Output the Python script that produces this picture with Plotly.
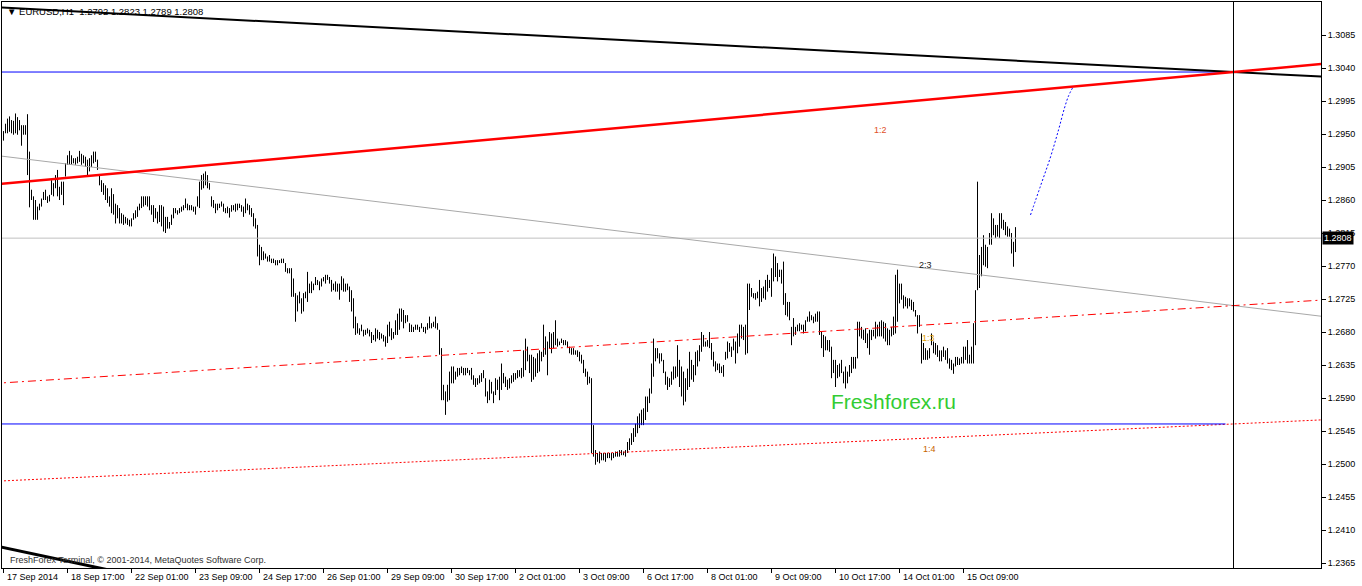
import plotly.graph_objects as go

# -- Data: EURUSD H1, bar highs/lows in units of 0.0001 --
HIGH = [
    12954, 12964, 12971, 12974, 12969, 12968, 12978, 12973, 12969, 12962, 12962, 12962, 12977, 12926, 12874, 12865,
    12860, 12851, 12855, 12862, 12871, 12874, 12865, 12867, 12887, 12883, 12894, 12901, 12878, 12885, 12885, 12910,
    12921, 12927, 12921, 12917, 12917, 12919, 12927, 12923, 12921, 12919, 12915, 12917, 12921, 12926, 12926, 12915,
    12894, 12887, 12883, 12880, 12876, 12865,
    12876, 12868, 12855, 12853, 12849, 12842, 12840, 12837, 12835, 12833, 12835, 12842, 12846, 12851, 12855, 12865,
    12865, 12865, 12865, 12865, 12853, 12853, 12849, 12844, 12853, 12853, 12851, 12837, 12837, 12830, 12840, 12849,
    12849, 12846, 12849, 12851, 12853, 12862, 12855, 12853, 12853, 12851, 12851, 12865, 12885, 12894, 12896, 12899,
    12894, 12883, 12865, 12860, 12855, 12855, 12855,
    12858, 12855, 12849, 12851, 12849, 12853, 12853, 12855, 12855, 12855, 12853, 12851, 12862, 12855, 12853, 12849,
    12842, 12835, 12826, 12799, 12796, 12790, 12787, 12783, 12785, 12780, 12780, 12778, 12778, 12778, 12780, 12780,
    12774, 12767, 12767, 12767, 12753, 12733, 12730, 12735, 12726, 12733, 12735, 12762, 12746, 12749, 12746, 12755,
    12751, 12749, 12753, 12755, 12758, 12758, 12755,
    12751, 12746, 12749, 12746, 12746, 12756, 12753, 12746, 12746, 12742, 12737, 12726, 12701, 12692, 12685, 12690,
    12683, 12683, 12685, 12683, 12680, 12676, 12685, 12683, 12680, 12678, 12676, 12674, 12690, 12694, 12685, 12680,
    12696, 12705, 12712, 12712, 12710, 12703, 12703, 12692, 12690, 12687, 12690, 12690, 12687, 12692, 12687, 12687,
    12692, 12701, 12692, 12694, 12701, 12692, 12683,
    12658, 12608, 12599, 12608, 12626, 12633, 12633, 12626, 12631, 12631, 12633, 12631, 12631, 12631, 12628, 12631,
    12621, 12617, 12617, 12621, 12624, 12628, 12617, 12599, 12615, 12612, 12599, 12617, 12615, 12619, 12637, 12624,
    12619, 12615, 12617, 12621, 12624, 12624, 12628, 12628, 12631, 12655, 12671, 12660, 12649, 12649, 12646, 12644,
    12651, 12655, 12653, 12690, 12674, 12667, 12680,
    12678, 12680, 12696, 12671, 12667, 12671, 12669, 12669, 12667, 12660, 12658, 12658, 12655, 12655, 12653, 12649,
    12642, 12630, 12626, 12619, 12617, 12553, 12519, 12515, 12517, 12515, 12515, 12515, 12515, 12515, 12515, 12515,
    12517, 12517, 12519, 12519, 12517, 12519, 12530, 12535, 12542, 12549, 12555, 12565, 12569, 12574, 12576, 12592,
    12592, 12603, 12637, 12671, 12658, 12658, 12651,
    12651, 12642, 12626, 12619, 12617, 12626, 12633, 12633, 12662, 12642, 12633, 12626, 12617, 12630, 12653, 12642,
    12635, 12653, 12655, 12662, 12680, 12676, 12667, 12669, 12680, 12665, 12653, 12640, 12637, 12637, 12633, 12635,
    12653, 12667, 12665, 12660, 12671, 12667, 12678, 12690, 12690, 12687, 12690, 12746, 12746, 12740, 12733, 12733,
    12735, 12751, 12740, 12742, 12751, 12758, 12751,
    12767, 12787, 12783, 12774, 12765, 12765, 12776, 12733, 12721, 12721, 12687, 12699, 12687, 12690, 12692, 12690,
    12690, 12696, 12701, 12708, 12703, 12701, 12705, 12708, 12708, 12680, 12676, 12674, 12669, 12669, 12660, 12642,
    12642, 12635, 12637, 12642, 12626, 12633, 12626, 12635, 12646, 12646, 12646, 12694, 12694, 12687, 12683, 12685,
    12678, 12683, 12683, 12683, 12694, 12690, 12694,
    12696, 12694, 12692, 12685, 12683, 12687, 12701, 12758, 12765, 12746, 12746, 12730, 12728, 12726, 12726, 12724,
    12721, 12710, 12703, 12703, 12678, 12665, 12658, 12655, 12658, 12678, 12667, 12665, 12662, 12655, 12655, 12660,
    12655, 12658, 12644, 12642, 12637, 12646, 12646, 12644, 12646, 12660, 12660, 12669, 12649, 12660, 12692, 12737,
    12885, 12785, 12796, 12812, 12799, 12796, 12815, 12842, 12835, 12826, 12826, 12842, 12842, 12833, 12830, 12824,
    12821, 12815, 12803, 12823,
]
LOW = [
    12941, 12951, 12951, 12953, 12951, 12949, 12951, 12949, 12955, 12934, 12949, 12949, 12894, 12850, 12860, 12833,
    12833, 12833, 12846, 12851, 12860, 12860, 12856, 12858, 12867, 12865, 12876, 12865, 12860, 12867, 12853, 12892,
    12908, 12908, 12908, 12910, 12908, 12910, 12912, 12908, 12910, 12905, 12894, 12899, 12905, 12910, 12912, 12901,
    12880, 12871, 12867, 12860, 12856, 12851,
    12842, 12840, 12828, 12835, 12828, 12828, 12826, 12828, 12826, 12824, 12824, 12833, 12835, 12837, 12846, 12849,
    12851, 12853, 12851, 12846, 12840, 12830, 12835, 12828, 12830, 12824, 12817, 12815, 12821, 12821, 12826, 12835,
    12842, 12840, 12842, 12844, 12846, 12849, 12846, 12846, 12846, 12844, 12840, 12851, 12849, 12874, 12876, 12880,
    12876, 12874, 12851, 12849, 12842, 12846, 12849,
    12851, 12844, 12842, 12842, 12836, 12844, 12846, 12844, 12846, 12849, 12844, 12837, 12842, 12846, 12840, 12837,
    12824, 12821, 12783, 12771, 12778, 12778, 12780, 12776, 12776, 12774, 12774, 12771, 12771, 12774, 12774, 12774,
    12762, 12760, 12760, 12728, 12728, 12694, 12708, 12719, 12705, 12708, 12726, 12721, 12733, 12733, 12737, 12744,
    12744, 12737, 12742, 12749, 12746, 12751, 12746,
    12735, 12737, 12735, 12735, 12724, 12737, 12735, 12735, 12737, 12721, 12708, 12685, 12676, 12678, 12676, 12681,
    12674, 12676, 12678, 12674, 12665, 12669, 12667, 12671, 12669, 12671, 12667, 12660, 12665, 12674, 12669, 12671,
    12676, 12676, 12683, 12694, 12685, 12692, 12694, 12680, 12680, 12680, 12683, 12683, 12680, 12685, 12680, 12678,
    12683, 12685, 12685, 12687, 12685, 12683, 12649,
    12587, 12587, 12567, 12585, 12587, 12610, 12610, 12615, 12619, 12621, 12624, 12621, 12621, 12624, 12621, 12615,
    12608, 12605, 12608, 12610, 12612, 12617, 12592, 12583, 12587, 12596, 12583, 12594, 12601, 12587, 12601, 12610,
    12605, 12601, 12603, 12610, 12612, 12615, 12617, 12619, 12617, 12619, 12628, 12640, 12624, 12612, 12615, 12619,
    12624, 12626, 12640, 12646, 12649, 12621, 12658,
    12651, 12658, 12662, 12660, 12662, 12665, 12662, 12662, 12658, 12651, 12649, 12649, 12649, 12646, 12640, 12637,
    12624, 12619, 12608, 12610, 12515, 12510, 12499, 12503, 12501, 12505, 12505, 12503, 12508, 12508, 12505, 12508,
    12510, 12510, 12510, 12512, 12512, 12510, 12515, 12519, 12526, 12530, 12537, 12542, 12549, 12553, 12553, 12560,
    12571, 12583, 12596, 12619, 12640, 12644, 12637,
    12640, 12624, 12608, 12601, 12605, 12608, 12615, 12617, 12619, 12605, 12592, 12580, 12585, 12601, 12605, 12615,
    12612, 12621, 12633, 12640, 12653, 12660, 12660, 12660, 12658, 12642, 12633, 12626, 12628, 12624, 12624, 12619,
    12642, 12644, 12653, 12646, 12655, 12637, 12651, 12660, 12671, 12669, 12649, 12651, 12710, 12728, 12726, 12724,
    12726, 12715, 12721, 12726, 12724, 12735, 12740,
    12728, 12749, 12755, 12749, 12755, 12746, 12717, 12703, 12701, 12696, 12662, 12674, 12676, 12681, 12681, 12683,
    12678, 12681, 12694, 12694, 12696, 12692, 12694, 12694, 12676, 12658, 12646, 12655, 12655, 12653, 12617, 12624,
    12605, 12617, 12619, 12624, 12610, 12603, 12610, 12619, 12624, 12630, 12630, 12644, 12674, 12671, 12669, 12665,
    12658, 12649, 12669, 12674, 12671, 12674, 12674,
    12674, 12671, 12667, 12662, 12662, 12674, 12676, 12678, 12694, 12719, 12724, 12712, 12715, 12712, 12715, 12710,
    12708, 12701, 12678, 12687, 12637, 12642, 12642, 12642, 12644, 12662, 12651, 12649, 12646, 12640, 12640, 12646,
    12642, 12637, 12630, 12628, 12623, 12633, 12635, 12635, 12637, 12637, 12642, 12637, 12637, 12637, 12637, 12662,
    12737, 12740, 12756, 12771, 12769, 12767, 12799, 12799, 12812, 12808, 12810, 12808, 12821, 12819, 12812, 12810,
    12810, 12787, 12769, 12789,
]

SYMBOL = "EURUSD,H1"
LAST_OHLC = [1.2792, 1.2823, 1.2789, 1.2808]

X_LABELS = ["17 Sep 2014", "18 Sep 17:00", "22 Sep 01:00", "23 Sep 09:00", "24 Sep 17:00",
            "26 Sep 01:00", "29 Sep 09:00", "30 Sep 17:00", "2 Oct 01:00", "3 Oct 09:00",
            "6 Oct 17:00", "8 Oct 01:00", "9 Oct 09:00", "10 Oct 17:00", "14 Oct 01:00",
            "15 Oct 09:00"]
LABEL_STEP = 32  # bars between time labels

Y_TICKS = [1.2365, 1.2410, 1.2455, 1.2500, 1.2545, 1.2590, 1.2635, 1.2680, 1.2725,
           1.2770, 1.2815, 1.2860, 1.2905, 1.2950, 1.2995, 1.3040, 1.3085]

# trend lines, anchored as (bar, price, bar, price)
RED_TREND = (0, 1.28822, 615, 1.30345)
BLACK_TREND = (240, 1.30880, 615, 1.30345)
BLACK_TREND_LOW = (0, 1.23860, 48, 1.23582)
GRAY_TREND = (0, 1.29195, 615, 1.27160)
RED_DASHDOT = (0, 1.26107, 615, 1.27160)
RED_DOTTED = (0, 1.24770, 615, 1.25546)
BLUE_LEVELS = [(1.30345, 615), (1.25546, 611)]
VLINE_BAR = 615

FORECAST_BAR = [513.5, 518.5, 523.5, 527.5, 530.5, 532.5, 534.5]
FORECAST_PRICE = [1.28396, 1.28791, 1.29186, 1.29555, 1.29855, 1.30018, 1.30127]

X_MIN, X_MAX = -0.75, 658.75
Y_MIN, Y_MAX = 1.235818, 1.3130

FONT = "Liberation Sans, Arial, sans-serif"

fig = go.Figure()

# -- price bars --
bx, by = [], []
for i, (h, l) in enumerate(zip(HIGH, LOW)):
    bx += [i, i, None]
    by += [l / 10000, h / 10000, None]
fig.add_trace(go.Scatter(x=bx, y=by, mode="lines", line={"color": "black", "width": 1},
                         hoverinfo="skip", showlegend=False))


def trend(a, color, width, dash="solid"):
    b1, p1, b2, p2 = a
    k = (p2 - p1) / (b2 - b1)
    xs = [X_MIN - 5, X_MAX + 5]
    ys = [p1 + k * (x - b1) for x in xs]
    fig.add_trace(go.Scatter(x=xs, y=ys, mode="lines", hoverinfo="skip", showlegend=False,
                             line={"color": color, "width": width, "dash": dash}))


# current price line
fig.add_trace(go.Scatter(x=[X_MIN - 5, X_MAX + 5], y=[LAST_OHLC[3]] * 2, mode="lines",
                         line={"color": "#C0C0C0", "width": 1}, hoverinfo="skip", showlegend=False))
trend(GRAY_TREND, "#A8A8A8", 1)
trend(RED_DASHDOT, "#FF0000", 1, "8px,4px,2px,4px")
trend(RED_DOTTED, "#FF0000", 1, "2px,2px")
for price, end in BLUE_LEVELS:
    fig.add_trace(go.Scatter(x=[X_MIN - 5, end], y=[price, price], mode="lines",
                             line={"color": "#0000FF", "width": 1}, hoverinfo="skip", showlegend=False))
trend(BLACK_TREND, "black", 2)
trend(BLACK_TREND_LOW, "black", 3)
trend(RED_TREND, "#FF0000", 2.5)

fig.add_trace(go.Scatter(x=[VLINE_BAR, VLINE_BAR], y=[Y_MIN - 1, Y_MAX + 1], mode="lines",
                         line={"color": "black", "width": 1}, hoverinfo="skip", showlegend=False))

fig.add_trace(go.Scatter(x=FORECAST_BAR, y=FORECAST_PRICE, mode="lines", line_shape="spline",
                         line={"color": "#0000FF", "width": 1, "dash": "2px,2px"},
                         hoverinfo="skip", showlegend=False))

ann = []
# time labels, left aligned at their tick
for k, lab in enumerate(X_LABELS):
    ann.append(dict(x=k * LABEL_STEP, y=0, xref="x", yref="paper", text=lab, showarrow=False,
                    xanchor="left", yanchor="top", xshift=1, yshift=-2,
                    font={"family": FONT, "size": 9, "color": "black"}))

ann.append(dict(x=0, y=1, xref="paper", yref="paper", xanchor="left", yanchor="top",
                xshift=3, yshift=-2, showarrow=False,
                text="▼ " + SYMBOL + "  " + " ".join(f"{v:.4f}" for v in LAST_OHLC),
                font={"family": FONT, "size": 9.5, "color": "black"}))
ann.append(dict(x=0, y=0, xref="paper", yref="paper", xanchor="left", yanchor="bottom",
                xshift=6, yshift=1, showarrow=False,
                text="FreshForex Terminal, © 2001-2014, MetaQuotes Software Corp.",
                font={"family": FONT, "size": 9, "color": "#303030"}))
ann.append(dict(x=1, y=LAST_OHLC[3], xref="paper", yref="y", xanchor="left", yanchor="middle",
                showarrow=False, text=f"{LAST_OHLC[3]:.4f}", bgcolor="black", borderpad=1,
                xshift=1, font={"family": FONT, "size": 9, "color": "white"}))

# chart text objects
ann.append(dict(x=438.5, y=1.29555, text="1:2", showarrow=False,
                font={"family": FONT, "size": 9, "color": "#E0502A"}))
ann.append(dict(x=461, y=1.27714, text="2:3", showarrow=False,
                font={"family": FONT, "size": 9, "color": "#202020"}))
ann.append(dict(x=462.5, y=1.26718, text="1:3", showarrow=False,
                font={"family": FONT, "size": 9, "color": "#E0A000"}))
ann.append(dict(x=463, y=1.25205, text="1:4", showarrow=False,
                font={"family": FONT, "size": 9, "color": "#C86400"}))
ann.append(dict(x=445, y=1.25846, text="Freshforex.ru", showarrow=False,
                font={"family": FONT, "size": 21, "color": "#33CC33"}))

fig.update_layout(
    width=1362, height=586,
    paper_bgcolor="white", plot_bgcolor="white",
    margin={"l": 2, "r": 41, "t": 2, "b": 18},
    annotations=ann,
    showlegend=False,
    xaxis={"range": [X_MIN, X_MAX], "showgrid": False, "zeroline": False,
           "showline": True, "mirror": True, "linecolor": "black", "linewidth": 1,
           "tickvals": [k * LABEL_STEP for k in range(len(X_LABELS))],
           "ticks": "outside", "ticklen": 4, "tickcolor": "black", "showticklabels": False},
    yaxis={"range": [Y_MIN, Y_MAX], "side": "right", "showgrid": False, "zeroline": False,
           "showline": True, "mirror": True, "linecolor": "black", "linewidth": 1,
           "tickvals": Y_TICKS, "tickformat": ".4f", "ticks": "outside", "ticklen": 4,
           "tickcolor": "black", "tickfont": {"family": FONT, "size": 9, "color": "black"}},
)

fig.write_html("out.html", config={"displayModeBar": False},
               post_script="document.body.style.margin='0';")
